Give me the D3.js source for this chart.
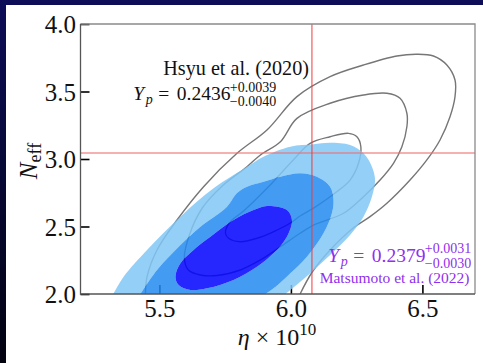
<!DOCTYPE html>
<html>
<head>
<meta charset="utf-8">
<script src="https://cdn.jsdelivr.net/npm/d3@7"></script>
<style>
  html, body { margin: 0; padding: 0; overflow: hidden; background: #000; }
  svg { display: block; }
  svg text { font-family: "Liberation Serif", "DejaVu Serif", serif !important; }
</style>
</head>
<body>
<svg id="chart" width="483" height="363"></svg>
<script>
// Axis setup
const xDomain = [5.2, 6.7];
const yDomain = [2.0, 4.0];
const xTicks = [5.5, 6.0, 6.5];
const yTicks = [2.0, 2.5, 3.0, 3.5, 4.0];

// Standard-model reference values (eta x 1e10, N_eff)
const etaRef = 6.08;
const neffRef = 3.045;

// Matsumoto et al. (2022) credible regions, [eta, N_eff]; outer two run off the bottom axis
const matsumoto99 = [
  [5.325, 2.000], [5.364, 2.128], [5.453, 2.326], [5.580, 2.573], [5.706, 2.783],
  [5.833, 2.943], [5.896, 3.017], [5.998, 3.091], [6.086, 3.109], [6.149, 3.121],
  [6.225, 3.104], [6.276, 3.042], [6.308, 2.943], [6.320, 2.844], [6.308, 2.721],
  [6.276, 2.573], [6.225, 2.437], [6.149, 2.289], [6.066, 2.141], [5.979, 2.000]
];
const matsumoto95 = [
  [5.428, 2.000], [5.491, 2.178], [5.580, 2.363], [5.656, 2.499], [5.757, 2.647],
  [5.795, 2.748], [5.833, 2.795], [5.896, 2.832], [5.960, 2.869], [6.036, 2.894],
  [6.099, 2.869], [6.149, 2.795], [6.162, 2.696], [6.156, 2.598], [6.124, 2.450],
  [6.061, 2.276], [5.998, 2.153], [5.941, 2.052], [5.903, 2.000]
];
const matsumoto68 = [
  [5.909, 2.652], [5.985, 2.622], [6.004, 2.548], [5.985, 2.424], [5.934, 2.301],
  [5.871, 2.202], [5.782, 2.104], [5.681, 2.042], [5.618, 2.030], [5.573, 2.067],
  [5.561, 2.128], [5.580, 2.227], [5.630, 2.326], [5.694, 2.424], [5.782, 2.548],
  [5.858, 2.622]
];

// Hsyu et al. (2020) contours, [eta, N_eff]; the outermost runs off the bottom axis
const hsyuOuter = [
  [5.447, 2.000], [5.453, 2.128], [5.491, 2.326], [5.567, 2.548], [5.668, 2.795],
  [5.795, 3.042], [5.909, 3.215], [6.023, 3.462], [6.149, 3.610], [6.276, 3.696],
  [6.403, 3.763], [6.479, 3.776], [6.542, 3.763], [6.593, 3.696], [6.624, 3.585],
  [6.624, 3.462], [6.605, 3.313], [6.567, 3.141], [6.517, 2.993], [6.453, 2.844],
  [6.365, 2.672], [6.301, 2.573], [6.237, 2.489], [6.149, 2.326], [6.081, 2.163],
  [6.035, 2.000]
];
const hsyuMiddle = [
  [5.960, 3.128], [6.023, 3.301], [6.149, 3.413], [6.276, 3.474], [6.365, 3.487],
  [6.415, 3.450], [6.441, 3.339], [6.441, 3.239], [6.422, 3.091], [6.390, 2.968],
  [6.339, 2.844], [6.276, 2.721], [6.200, 2.598], [6.086, 2.511], [6.035, 2.450],
  [5.960, 2.350], [5.884, 2.252], [5.808, 2.178], [5.719, 2.137], [5.656, 2.141],
  [5.610, 2.178], [5.595, 2.267], [5.614, 2.437], [5.663, 2.637], [5.739, 2.800],
  [5.833, 2.943], [5.884, 3.030]
];
const hsyuInner = [
  [6.073, 3.116], [6.149, 3.165], [6.219, 3.190], [6.251, 3.165], [6.266, 3.091],
  [6.257, 2.968], [6.225, 2.844], [6.168, 2.748], [6.092, 2.644], [6.035, 2.578],
  [5.998, 2.526], [5.933, 2.461], [5.871, 2.413], [5.808, 2.387], [5.763, 2.413],
  [5.751, 2.450], [5.757, 2.499], [5.776, 2.548], [5.820, 2.615], [5.910, 2.785],
  [6.009, 2.993]
];

const W = 483, H = 363;
const plot = { left: 80.5, right: 475, top: 24, bottom: 294 };
const SERIF = "Liberation Serif, DejaVu Serif, serif";

const svg = d3.select("#chart");

// Slide backdrop and white card
const defs = svg.append("defs");
const grad = defs.append("linearGradient").attr("id", "backdrop")
  .attr("x1", 0).attr("y1", 0).attr("x2", 0).attr("y2", 1);
grad.append("stop").attr("offset", "0%").attr("stop-color", "#0d0d58");
grad.append("stop").attr("offset", "100%").attr("stop-color", "#020210");
svg.append("rect").attr("width", W).attr("height", H).attr("fill", "url(#backdrop)");
svg.append("rect").attr("x", 6).attr("y", 5).attr("width", W - 6).attr("height", H - 5).attr("fill", "#ffffff");

defs.append("clipPath").attr("id", "plotClip").append("rect")
  .attr("x", plot.left).attr("y", plot.top)
  .attr("width", plot.right - plot.left).attr("height", plot.bottom - plot.top);

const x = d3.scaleLinear().domain(xDomain).range([plot.left, plot.right]);
const y = d3.scaleLinear().domain(yDomain).range([plot.bottom, plot.top]);

// Ticks point inward, drawn beneath the translucent fills
const xAxis = d3.axisBottom(x).tickValues(xTicks).tickSizeInner(-9).tickSizeOuter(0)
  .tickFormat(d3.format(".1f"));
const yAxis = d3.axisLeft(y).tickValues(yTicks).tickSizeInner(-9).tickSizeOuter(0)
  .tickFormat(d3.format(".1f"));

const gx = svg.append("g").attr("transform", `translate(0,${plot.bottom})`).call(xAxis);
const gy = svg.append("g").attr("transform", `translate(${plot.left},0)`).call(yAxis);
[gx, gy].forEach(g => {
  g.attr("font-family", SERIF);
  g.select(".domain").remove();
  g.selectAll(".tick line").attr("stroke", "#000").attr("stroke-width", 1.6);
  g.selectAll(".tick text").attr("fill", "#111").attr("font-size", 25);
});
gx.selectAll(".tick text").attr("dy", 0).attr("y", 22.5);
gy.selectAll(".tick text").attr("dy", "0.34em").attr("x", -4.5);

const layer = svg.append("g").attr("clip-path", "url(#plotClip)");

const openLine = d3.line().x(d => x(d[0])).y(d => y(d[1])).curve(d3.curveCatmullRom.alpha(0.5));
const closedLine = d3.line().x(d => x(d[0])).y(d => y(d[1])).curve(d3.curveCatmullRomClosed.alpha(0.5));

// Hsyu et al. contours (under the fills)
const grey = "#767676";
layer.append("path").attr("d", openLine(hsyuOuter)).attr("fill", "none").attr("stroke", grey).attr("stroke-width", 1.4);
layer.append("path").attr("d", closedLine(hsyuMiddle)).attr("fill", "none").attr("stroke", grey).attr("stroke-width", 1.4);
layer.append("path").attr("d", closedLine(hsyuInner)).attr("fill", "none").attr("stroke", grey).attr("stroke-width", 1.4);

// Matsumoto et al. filled bands (each pixel covered by one band only)
const p99 = openLine(matsumoto99) + "Z";
const p95 = openLine(matsumoto95) + "Z";
const p68 = closedLine(matsumoto68);
const bands = [
  { d: p99 + p95, color: "#80c7f4" },
  { d: p95 + p68, color: "#238af0" },
  { d: p68, color: "#0000ff" }
];
layer.selectAll("path.band").data(bands).enter().append("path")
  .attr("class", "band")
  .attr("d", d => d.d)
  .attr("fill", d => d.color)
  .attr("fill-opacity", 0.85)
  .attr("fill-rule", "evenodd");

// Reference lines
layer.append("line")
  .attr("x1", plot.left).attr("x2", plot.right)
  .attr("y1", y(neffRef)).attr("y2", y(neffRef))
  .attr("stroke", "#f07070").attr("stroke-opacity", 0.55).attr("stroke-width", 2);
layer.append("line")
  .attr("x1", x(etaRef)).attr("x2", x(etaRef))
  .attr("y1", plot.top).attr("y2", plot.bottom)
  .attr("stroke", "#f03a3a").attr("stroke-width", 1);

// Frame
svg.append("path").attr("d", `M${plot.left},${plot.top}H${plot.right}V${plot.bottom}`)
  .attr("fill", "none").attr("stroke", "#8a8a8a").attr("stroke-width", 1.3);
svg.append("path").attr("d", `M${plot.left},${plot.top}V${plot.bottom}H${plot.right}`)
  .attr("fill", "none").attr("stroke", "#555").attr("stroke-width", 1.3);

// Axis titles
const xl = svg.append("text").attr("x", 277).attr("y", 345).attr("text-anchor", "middle")
  .attr("font-family", SERIF).attr("font-size", 24).attr("fill", "#111");
xl.append("tspan").attr("font-style", "italic").text("η");
xl.append("tspan").text(" × 10");
xl.append("tspan").attr("font-size", 17).attr("dy", -10).text("10");

const yl = svg.append("text").attr("transform", "translate(37,161) rotate(-90)")
  .attr("text-anchor", "middle").attr("font-family", SERIF).attr("font-size", 25).attr("fill", "#111");
yl.append("tspan").attr("font-style", "italic").text("N");
yl.append("tspan").attr("font-size", 18).attr("dy", 4).text("eff");

// Y_p annotation: symbol, value and asymmetric errors
function ypLabel(x0, base, value, plus, minus, color, supOff, subOff) {
  const g = svg.append("g").attr("fill", color).attr("font-family", SERIF);
  g.append("text").attr("x", x0).attr("y", base).attr("font-size", 19.5).attr("font-style", "italic").text("Y");
  g.append("text").attr("x", x0 + 12.5).attr("y", base + 4).attr("font-size", 14).attr("font-style", "italic").text("p");
  g.append("text").attr("x", x0 + 25).attr("y", base).attr("font-size", 19.5).text("=");
  g.append("text").attr("x", x0 + 43.5).attr("y", base).attr("font-size", 19.5).text(value);
  g.append("text").attr("x", x0 + 96.5).attr("y", base + supOff).attr("font-size", 14).text(plus);
  g.append("text").attr("x", x0 + 96.5).attr("y", base + subOff).attr("font-size", 14).text(minus);
}

// Annotation: Hsyu et al.
const ink = "#111";
svg.append("text").attr("x", 309).attr("y", 75).attr("text-anchor", "end")
  .attr("font-family", SERIF).attr("font-size", 20.2).attr("fill", ink).text("Hsyu et al. (2020)");
ypLabel(133.3, 100, "0.2436", "+0.0039", "\u22120.0040", ink, -8, 6);

// Annotation: Matsumoto et al.
const violet = "#9030ee";
ypLabel(328.3, 262, "0.2379", "+0.0031", "\u22120.0030", violet, -9.5, 5.5);
svg.append("text").attr("x", 469.5).attr("y", 283).attr("text-anchor", "end")
  .attr("font-family", SERIF).attr("font-size", 15.5).attr("fill", violet).text("Matsumoto et al. (2022)");
</script>
</body>
</html>
